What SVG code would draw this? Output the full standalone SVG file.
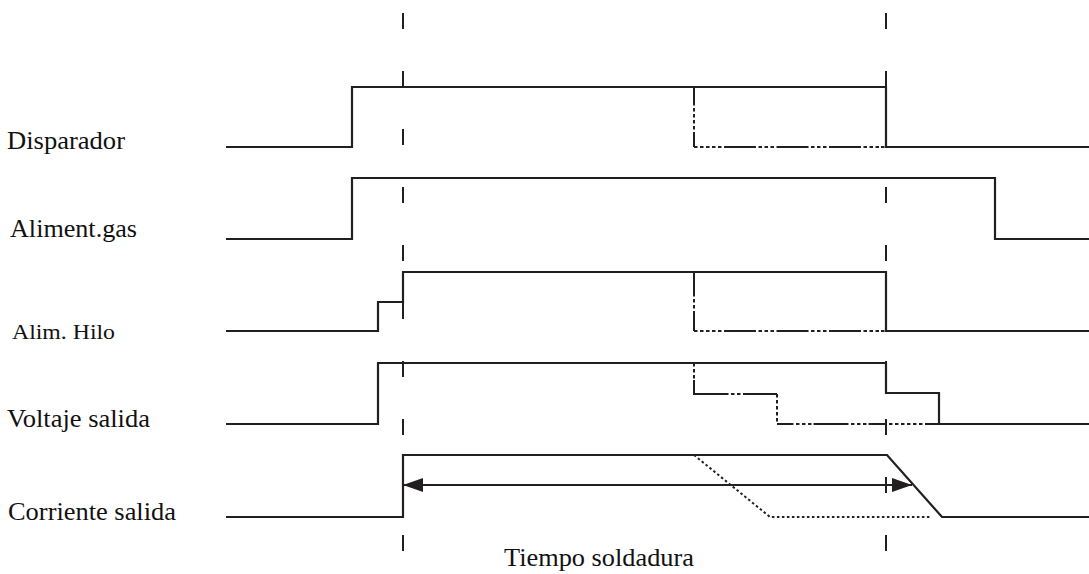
<svg xmlns="http://www.w3.org/2000/svg" width="1089" height="574" viewBox="0 0 1089 574">
<style>
.sig{fill:none;stroke:#231f20;stroke-width:2.2;stroke-linejoin:miter}
.dd{fill:none;stroke:#231f20;stroke-width:2}
.dot{fill:none;stroke:#231f20;stroke-width:2;stroke-dasharray:2.5 2.5}
.grid{fill:none;stroke:#231f20;stroke-width:2;stroke-dasharray:16 42}
text{font-family:'Liberation Serif','Times New Roman',serif;font-size:25px;fill:#111}
</style>
<defs>
<marker id="ah" viewBox="0 0 20 14" refX="20" refY="7" markerWidth="20" markerHeight="14" markerUnits="userSpaceOnUse" orient="auto-start-reverse">
<path d="M0,0 L20,7 L0,14 z" fill="#231f20"/>
</marker>
</defs>
<rect width="1089" height="574" fill="#fff"/>
<g id="guides">
<line class="grid" x1="403" y1="13" x2="403" y2="552"/>
<line class="grid" x1="886" y1="13" x2="886" y2="552"/>
</g>
<g id="disparador">
<text x="7" y="149" textLength="118" lengthAdjust="spacingAndGlyphs">Disparador</text>
<path class="sig" d="M226 147 H352 V87 H886 V147 H1089"/>
<path class="dd" d="M694 87 V102"/>
<path class="dd" d="M694 102 V132" stroke-dasharray="3.5 2.5"/>
<path class="dd" d="M694 132 V147"/>
<path class="dd" d="M694 147 H886" stroke-dasharray="3.5 2.5 3.5 2.5 3.5 2.5 3.5 2.5 3.5 2.5 32 2.5 3.5 2.5 3.5 2.5 3.5 2.5 32 2.5 3.5 2.5 3.5 2.5 3.5 2.5 32 2.5 3.5 2.5 3.5 2.5 3.5 2"/>
</g>
<g id="aliment-gas">
<text x="10" y="237" textLength="127" lengthAdjust="spacingAndGlyphs">Aliment.gas</text>
<path class="sig" d="M226 239 H352 V178 H995 V239 H1089"/>
</g>
<g id="alim-hilo">
<text x="12" y="339" style="font-size:22px" textLength="103" lengthAdjust="spacingAndGlyphs">Alim. Hilo</text>
<path class="sig" d="M226 331 H378 V302 H403 V272 H886 V331 H1089"/>
<path class="dd" d="M694 272 V293"/>
<path class="dd" d="M694 293 V313" stroke-dasharray="3.5 2.5"/>
<path class="dd" d="M694 313 V331"/>
<path class="dd" d="M694 331 H886" stroke-dasharray="3.5 2.5 3.5 2.5 3.5 2.5 3.5 2.5 3.5 2.5 32 2.5 3.5 2.5 3.5 2.5 3.5 2.5 32 2.5 3.5 2.5 3.5 2.5 3.5 2.5 32 2.5 3.5 2.5 3.5 2.5 3.5 2"/>
</g>
<g id="voltaje-salida">
<text x="7" y="427" textLength="143" lengthAdjust="spacingAndGlyphs">Voltaje salida</text>
<path class="sig" d="M226 424 H378 V363 H886 V393 H939 V424 H1089"/>
<path class="dd" d="M694 363 V380" stroke-dasharray="3.5 2.5"/>
<path class="dd" d="M694 380 V394 H725"/>
<path class="dd" d="M725 394 H745" stroke-dasharray="3.5 2.5"/>
<path class="dd" d="M745 394 H777"/>
<path class="dd" d="M777 394 V424" stroke-dasharray="3.5 2.5"/>
<path class="dd" d="M777 424 H790"/>
<path class="dd" d="M790 424 H939" stroke-dasharray="3.5 2.5 3.5 2.5 3.5 2.5 3.5 2 35 2.5 3.5 2.5 3.5 2.5 3.5 2 18 2.5 3.5 2.5 3.5 2.5 3.5 2.5 3.5 2.5 3.5 2.5 3.5 2.5 20"/>
</g>
<g id="corriente-salida">
<text x="8" y="520" textLength="168" lengthAdjust="spacingAndGlyphs">Corriente salida</text>
<path class="sig" d="M226 517 H403 V455 H887 L942 517 H1089"/>
<path class="dot" d="M694 455 L770 517 H930"/>
</g>
<g id="connectors">
<line class="sig" x1="403" y1="485" x2="912" y2="485" stroke-width="2.5" marker-start="url(#ah)" marker-end="url(#ah)"/>
<text x="504" y="566" textLength="190" lengthAdjust="spacingAndGlyphs">Tiempo soldadura</text>
</g>
</svg>
